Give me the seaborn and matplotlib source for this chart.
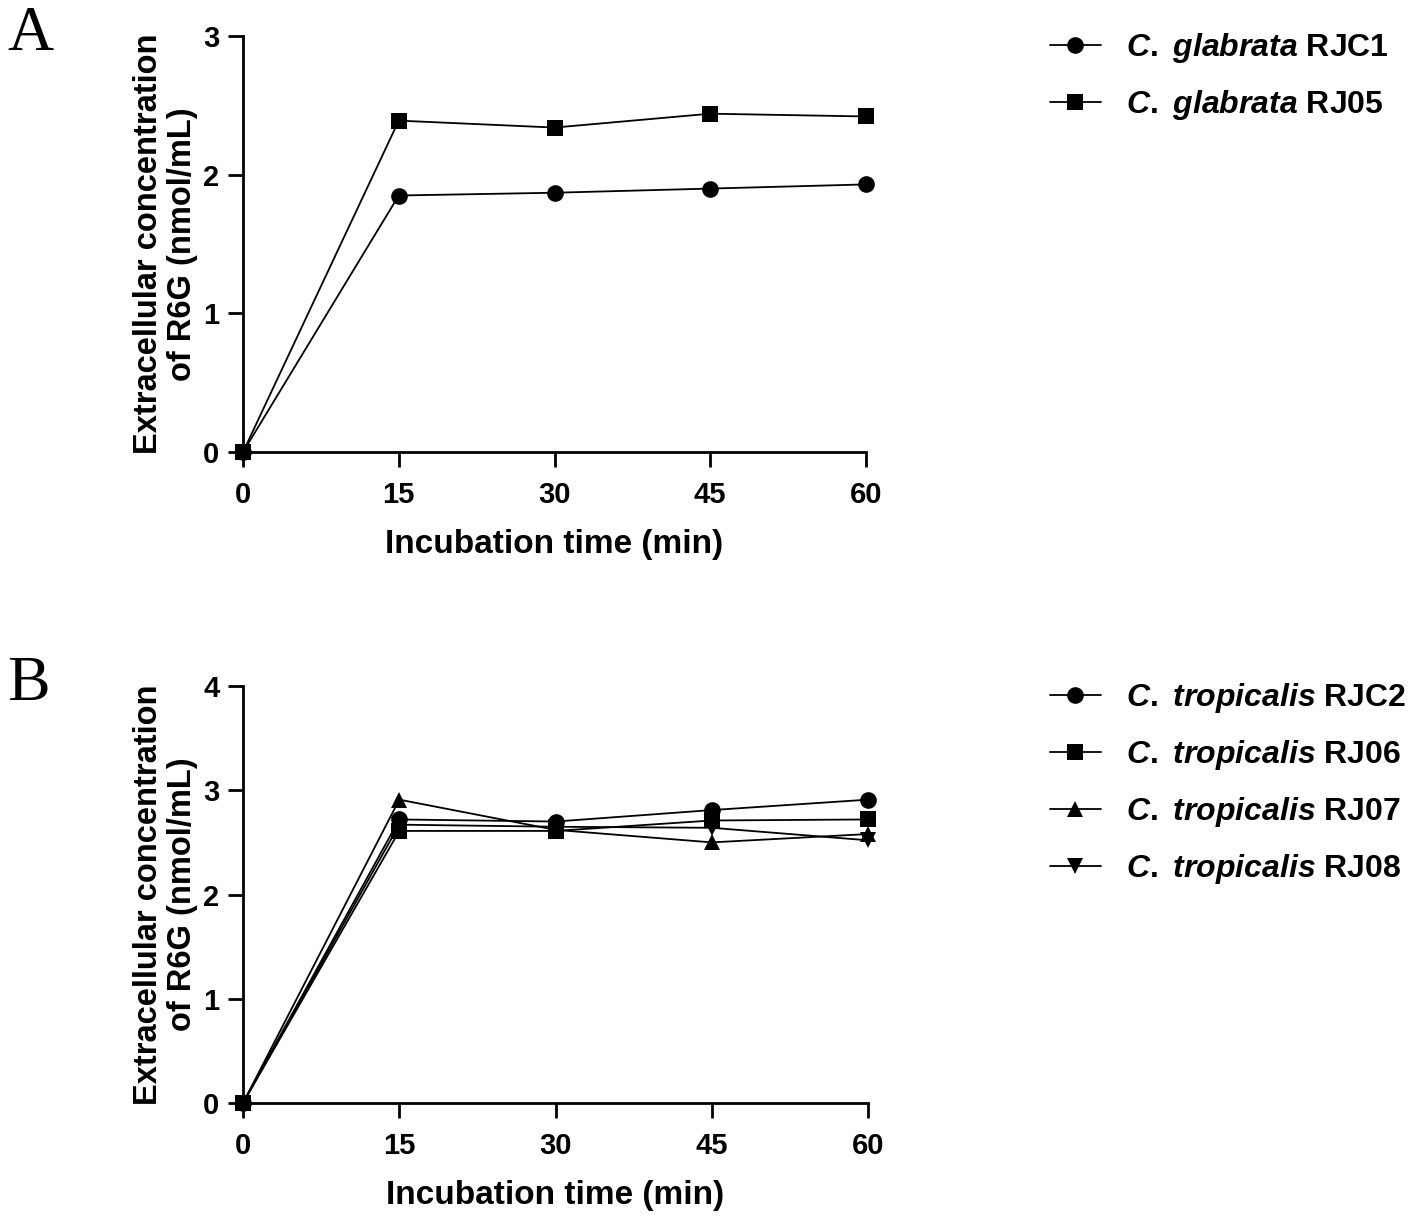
import numpy as np
import pandas as pd
import seaborn as sns
import matplotlib.pyplot as plt
from matplotlib.lines import Line2D

sns.set_style("ticks")
plt.rcParams['font.family'] = ['Liberation Sans', 'DejaVu Sans']
plt.rcParams['font.weight'] = 'bold'
plt.rcParams['mathtext.fontset'] = 'custom'
plt.rcParams['mathtext.it'] = 'Liberation Sans:italic:bold'
plt.rcParams['mathtext.rm'] = 'Liberation Sans:bold'
for k in ['text.color', 'axes.labelcolor', 'xtick.color', 'ytick.color', 'axes.edgecolor']:
    plt.rcParams[k] = 'black'

time_min = [0, 15, 30, 45, 60]

# panel A - C. glabrata
strains_a = [r"$\mathit{C.}$ $\mathit{glabrata}$ RJC1", r"$\mathit{C.}$ $\mathit{glabrata}$ RJ05"]
rjc1 = [0, 1.85, 1.87, 1.90, 1.93]
rj05 = [0, 2.39, 2.34, 2.44, 2.42]
markers_a = ['o', 's']

# panel B - C. tropicalis
strains_b = [r"$\mathit{C.}$ $\mathit{tropicalis}$ RJC2", r"$\mathit{C.}$ $\mathit{tropicalis}$ RJ06",
             r"$\mathit{C.}$ $\mathit{tropicalis}$ RJ07", r"$\mathit{C.}$ $\mathit{tropicalis}$ RJ08"]
rjc2 = [0, 2.72, 2.70, 2.81, 2.91]
rj06 = [0, 2.61, 2.61, 2.71, 2.72]
rj07 = [0, 2.91, 2.62, 2.50, 2.58]
rj08 = [0, 2.67, 2.65, 2.64, 2.52]
markers_b = ['o', 's', '^', 'v']


def long_df(names, series):
    rows = []
    for n, vals in zip(names, series):
        for t, v in zip(time_min, vals):
            rows.append({'time': t, 'value': v, 'strain': n})
    return pd.DataFrame(rows)


df_a = long_df(strains_a, [rjc1, rj05])
df_b = long_df(strains_b, [rjc2, rj06, rj07, rj08])

fig = plt.figure(figsize=(14.18, 12.22), dpi=100)
ax_a = fig.add_axes([0.1714, 0.6301, 0.4393, 0.3404])
ax_b = fig.add_axes([0.1714, 0.0974, 0.4407, 0.3412])


def draw_panel(ax, df, names, mk, ymax, leg_y, letter, letter_y):
    sns.lineplot(data=df, x='time', y='value', style='strain', style_order=names,
                 markers=dict(zip(names, mk)), dashes=False, color='black',
                 markersize=12, linewidth=1.3, markeredgewidth=0, legend=False,
                 clip_on=False, ax=ax)
    ax.set_xlim(0, 60)
    ax.set_ylim(0, ymax)
    ax.set_xticks(time_min)
    ax.set_yticks(range(0, ymax + 1))
    for s in ['top', 'right']:
        ax.spines[s].set_visible(False)
    for s in ['left', 'bottom']:
        ax.spines[s].set_linewidth(2)
    ax.tick_params(width=2, length=11, labelsize=21)
    ax.tick_params(axis='x', pad=10)
    ax.tick_params(axis='y', pad=6)
    ax.set_xlabel('Incubation time (min)', fontsize=24, fontweight='bold', labelpad=14)
    ax.set_ylabel('Extracellular concentration\nof R6G (nmol/mL)', fontsize=23.5,
                  fontweight='bold', labelpad=4, linespacing=1.1)
    handles = [Line2D([], [], color='black', marker=m, markersize=12, linewidth=1.3,
                      markeredgewidth=0) for m in mk]
    ax.legend(handles, names, loc='upper left', bbox_to_anchor=(0.72, leg_y),
              bbox_transform=fig.transFigure, frameon=False, fontsize=23,
              handlelength=1.6, handletextpad=0.8, labelspacing=0.72)
    fig.text(0.005, letter_y, letter, fontsize=46, family=['Liberation Serif', 'DejaVu Serif'],
             fontweight='normal', va='top')


draw_panel(ax_a, df_a, strains_a, markers_a, 3, 0.998, 'A', 0.995)
draw_panel(ax_b, df_b, strains_b, markers_b, 4, 0.466, 'B', 0.463)

fig.savefig('out.png', dpi=100)
